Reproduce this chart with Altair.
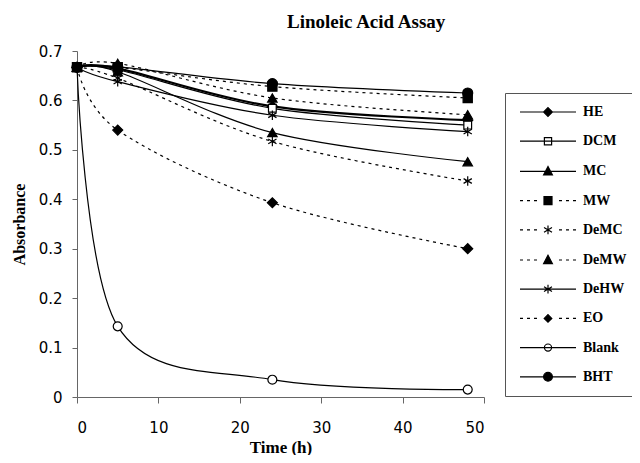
import altair as alt
import pandas as pd

# ---- data ----
names = ["HE", "DCM", "MC", "MW", "DeMC", "DeMW", "DeHW", "EO", "Blank", "BHT"]
times = [0, 5, 24, 48]
HE = [0.667, 0.665, 0.588, 0.560]
DCM = [0.667, 0.662, 0.584, 0.550]
MC = [0.667, 0.658, 0.535, 0.476]
MW = [0.667, 0.667, 0.628, 0.605]
DeMC = [0.667, 0.645, 0.517, 0.437]
DeMW = [0.667, 0.675, 0.605, 0.571]
DeHW = [0.667, 0.638, 0.570, 0.537]
EO = [0.667, 0.540, 0.393, 0.300]
Blank = [0.667, 0.143, 0.035, 0.015]
BHT = [0.667, 0.668, 0.634, 0.615]
x_ticks = [0, 10, 20, 30, 40, 50]
y_ticks = [0, 0.1, 0.2, 0.3, 0.4, 0.5, 0.6, 0.7]

series = dict(zip(names, [HE, DCM, MC, MW, DeMC, DeMW, DeHW, EO, Blank, BHT]))
rows = []
for n, vals in series.items():
    for t, v in zip(times, vals):
        rows.append({"series": n, "t": t, "a": v})
df = pd.DataFrame(rows)

# ---- styles ----
dashed = {"MW", "DeMC", "DeMW", "EO"}
widths = {"HE": 2.2}
ASTER = "M0,-1L0,1M-0.87,-0.5L0.87,0.5M-0.87,0.5L0.87,-0.5"
marker = {
    "HE": ("diamond", 100, "black"),
    "DCM": ("square", 60, "white"),
    "MC": ("triangle-up", 90, "black"),
    "MW": ("square", 85, "black"),
    "DeMC": (ASTER, 90, "black"),
    "DeMW": ("triangle-up", 90, "black"),
    "DeHW": (ASTER, 90, "black"),
    "EO": ("diamond", 100, "black"),
    "Blank": ("circle", 80, "white"),
    "BHT": ("circle", 100, "black"),
}

x_enc = alt.X("t:Q", scale=alt.Scale(domain=[0, 50], nice=False),
              axis=alt.Axis(values=x_ticks, title="Time (h)", grid=False,
                            tickSize=6, labelPadding=17, titlePadding=4))
y_enc = alt.Y("a:Q", scale=alt.Scale(domain=[0, 0.7], nice=False),
              axis=alt.Axis(values=y_ticks, title="Absorbance", grid=False, format="~g",
                            tickSize=5, labelPadding=10, titlePadding=11, titleFontSize=16))

layers = []
for n in names:
    base = alt.Chart(df).transform_filter(alt.datum.series == n)
    kw = {"strokeDash": [3, 4]} if n in dashed else {}
    layers.append(base.mark_line(interpolate="cardinal", color="black",
                                 strokeWidth=widths.get(n, 1.2), **kw)
                  .encode(x=x_enc, y=y_enc))
for n in names:
    shp, sz, fillc = marker[n]
    base = alt.Chart(df).transform_filter(alt.datum.series == n)
    layers.append(base.mark_point(shape=shp, size=sz, fill=fillc, filled=True,
                                  stroke="black", strokeWidth=1.2, opacity=1)
                  .encode(x=x_enc, y=y_enc))

# ---- legend: symbols = line (solid or dashed) with marker ----
LINE = "M-7,0L7,0"
DASH = "M-7,0L-6.25,0M-5.25,0L-4.5,0M-3.5,0L-2.75,0M2.75,0L3.5,0M4.5,0L5.25,0M6.25,0L7,0"
leg_marker = {
    "HE": "M0,-1.1L1.1,0L0,1.1L-1.1,0Z",
    "DCM": "M-0.9,-0.9L0.9,-0.9L0.9,0.9L-0.9,0.9Z",
    "MC": "M0,-1.2L1.1,0.9L-1.1,0.9Z",
    "MW": "M-1,-1L1,-1L1,1L-1,1Z",
    "DeMC": "M0,-1.1L0,1.1M-1,-0.6L1,0.6M-1,0.6L1,-0.6",
    "DeMW": "M0,-1.2L1.1,0.9L-1.1,0.9Z",
    "DeHW": "M0,-1.1L0,1.1M-1,-0.6L1,0.6M-1,0.6L1,-0.6",
    "EO": "M0,-0.95L0.95,0L0,0.95L-0.95,0Z",
    "Blank": "M-0.9,0A0.9,0.9 0 1,1 0.9,0A0.9,0.9 0 1,1 -0.9,0Z",
    "BHT": "M-1.1,0A1.1,1.1 0 1,1 1.1,0A1.1,1.1 0 1,1 -1.1,0Z",
}
leg_paths = [(DASH if n in dashed else LINE) + leg_marker[n] for n in names]
leg_fills = ["white" if marker[n][2] == "white" else "black" for n in names]
leg_strokes = ["black"] * len(names)

legend = alt.Legend(
    title=None, orient="none", legendX=428, legendY=42, direction="vertical",
    padding=12, rowPadding=15.2, strokeColor="#555555", fillColor="white",
    symbolSize=64, symbolStrokeColor="black", symbolStrokeWidth=1.2,
    symbolOpacity=1, symbolOffset=24, labelOffset=28,
    labelFont="Liberation Serif", labelFontSize=14, labelFontWeight="bold",
    labelColor="black", labelLimit=300,
    labelExpr="datum.label + '\u00a0\u00a0\u00a0\u00a0\u00a0\u00a0\u00a0\u00a0'",
)
leg_layer = (
    alt.Chart(df).transform_filter("datum.t < 0")
    .mark_point(size=64, strokeWidth=1.2, opacity=1)
    .encode(
        x=x_enc, y=y_enc,
        shape=alt.Shape("series:N", scale=alt.Scale(domain=names, range=leg_paths), legend=legend),
        fill=alt.Fill("series:N", scale=alt.Scale(domain=names, range=leg_fills), legend=legend),
        stroke=alt.Stroke("series:N", scale=alt.Scale(domain=names, range=leg_strokes), legend=legend),
    )
)
layers.append(leg_layer)

chart = (
    alt.layer(*layers)
    .properties(
        width=407, height=346,
        autosize=alt.AutoSizeParams(type="none"),
        padding={"left": 69, "top": 43, "right": 148, "bottom": 58},
        title=alt.TitleParams("Linoleic Acid Assay", anchor="start", frame="group", dx=210,
                              offset=12, font="Liberation Serif", fontSize=19,
                              fontWeight="bold", color="black"),
        background="white",
    )
    .configure_view(stroke=None)
    .configure_axis(
        labelFont="DejaVu Sans", labelFontSize=15, labelColor="black",
        titleFont="Liberation Serif", titleFontSize=17, titleFontWeight="bold",
        titleColor="black", domainColor="#666666", tickColor="#666666",
    )
)

chart.save("out.html", embed_options={"renderer": "svg", "actions": False})
